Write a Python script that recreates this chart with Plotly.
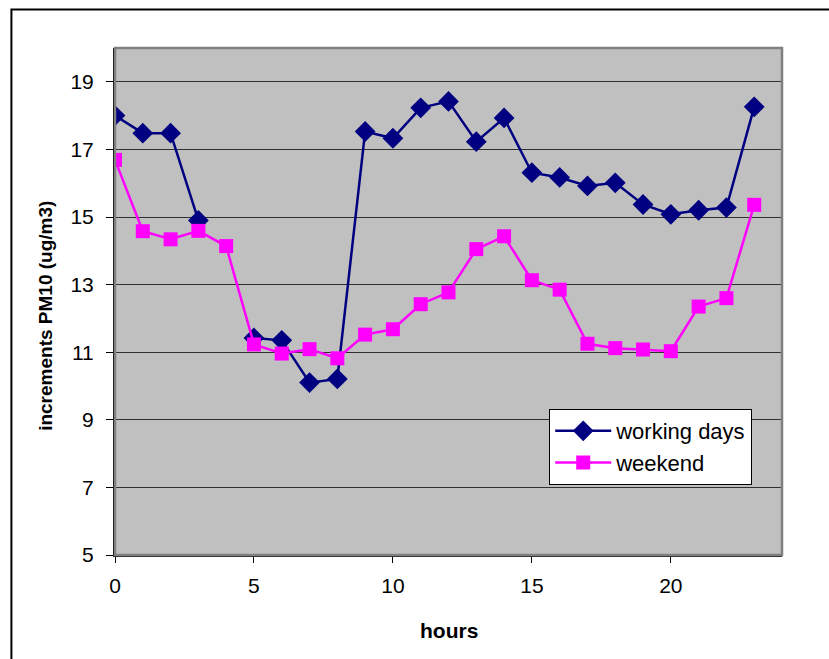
import plotly.graph_objects as go

hours = list(range(24))
working_days = [18.0, 17.48, 17.48, 14.9, None, 11.42, 11.35, 10.1, 10.21, 17.53, 17.33,
                18.23, 18.42, 17.23, 17.93, 16.31, 16.17, 15.92, 16.01, 15.37, 15.08,
                15.20, 15.28, 18.26]
weekend = [16.69, 14.58, 14.34, 14.59, 14.14, 11.23, 10.96, 11.09, 10.82, 11.52, 11.68,
           12.42, 12.77, 14.05, 14.43, 13.13, 12.85, 11.25, 11.12, 11.08, 11.03,
           12.35, 12.60, 15.36]
x_ticks = [0, 5, 10, 15, 20]
y_ticks = [5, 7, 9, 11, 13, 15, 17, 19]

FONT = "Arial, Liberation Sans, sans-serif"

fig = go.Figure()
fig.add_trace(go.Scatter(
    x=hours, y=working_days, name="working days", mode="lines+markers",
    line=dict(color="#000080", width=2.5),
    marker=dict(symbol="diamond", size=16, color="#000080"),
    connectgaps=False,
))
fig.add_trace(go.Scatter(
    x=hours, y=weekend, name="weekend", mode="lines+markers",
    line=dict(color="#FF00FF", width=2.5),
    marker=dict(symbol="square", size=14, color="#FF00FF"),
))

fig.update_layout(
    width=829, height=659,
    margin=dict(l=115, r=47, t=48, b=104),
    paper_bgcolor="white",
    plot_bgcolor="#C0C0C0",
    font=dict(family=FONT, size=20, color="black"),
    showlegend=True,
    legend=dict(
        x=0.651, y=0.288, xanchor="left", yanchor="top",
        bgcolor="white", bordercolor="black", borderwidth=1,
        font=dict(family=FONT, size=22, color="black"),
        itemwidth=56,
    ),
    xaxis=dict(
        range=[0, 24], tickvals=x_ticks, ticktext=[str(v) for v in x_ticks],
        showgrid=False, zeroline=False,
        showline=True, linecolor="#202020", linewidth=2,
        ticks="outside", ticklen=6, tickcolor="black", tickwidth=1,
        ticklabelstandoff=5,
        tickfont=dict(family=FONT, size=21, color="black"),
    ),
    yaxis=dict(
        range=[5, 20], tickvals=y_ticks, ticktext=[str(v) for v in y_ticks],
        showgrid=True, gridcolor="#303030", gridwidth=1.2,
        zeroline=False,
        showline=True, linecolor="black", linewidth=2,
        ticks="outside", ticklen=7, tickcolor="black", tickwidth=1,
        ticklabelstandoff=8,
        tickfont=dict(family=FONT, size=21, color="black"),
    ),
    shapes=[
        dict(type="rect", xref="paper", yref="paper", x0=0, x1=1, y0=0, y1=1,
             line=dict(color="#808080", width=2.5), layer="above"),
        dict(type="rect", xref="paper", yref="paper", x0=-0.1553, x1=1.2, y0=-0.25, y1=1.0759,
             line=dict(color="black", width=2)),
    ],
    annotations=[
        dict(text="<b>hours</b>", xref="paper", yref="paper", x=0.5, y=-0.148,
             xanchor="center", yanchor="middle", showarrow=False,
             font=dict(family=FONT, size=21, color="black")),
        dict(text="<b>increments PM10 (ug/m3)</b>", xref="paper", yref="paper",
             x=-0.104, y=0.471, xanchor="center", yanchor="middle", showarrow=False,
             textangle=-90, font=dict(family=FONT, size=19, color="black")),
    ],
)

fig.write_html("out.html", config={"displayModeBar": False},
               post_script="document.body.style.margin='0';document.body.style.overflow='hidden';")
